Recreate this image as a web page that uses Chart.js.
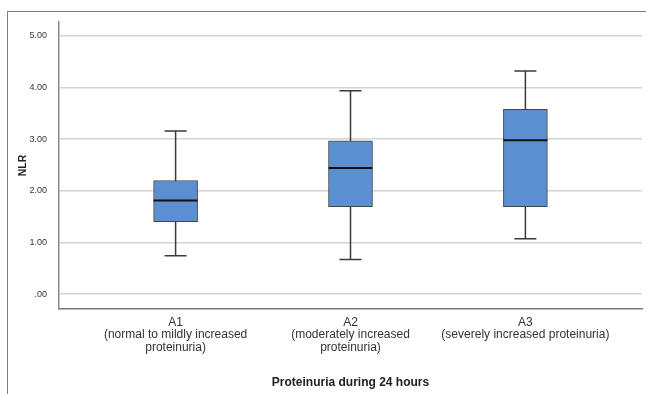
<!DOCTYPE html>
<html lang="en">
<head>
    <meta charset="UTF-8">
    <title>NLR by proteinuria</title>
    <script src="https://cdn.jsdelivr.net/npm/chart.js@4.4.0/dist/chart.umd.min.js"></script>
    <style>
        body { margin: 0; background: #fff; }
        .wrap { position: relative; width: 646px; height: 394px; overflow: hidden; }
        .frame {
            position: absolute; left: 7px; top: 11px; width: 660px; height: 400px;
            border-top: 1.5px solid #7d7d7d; border-left: 1.5px solid #7d7d7d;
        }
        canvas { position: absolute; left: 0; top: 0; }
    </style>
</head>
<body>
    <div class="wrap">
        <div class="frame"></div>
        <canvas id="boxChart" width="646" height="394"></canvas>
    </div>

    <script>
        // data
        const groups = [1, 2, 3];
        const groupLabels = [
            ['A1', '(normal to mildly increased', 'proteinuria)'],
            ['A2', '(moderately increased', 'proteinuria)'],
            ['A3', '(severely increased proteinuria)']
        ];
        const mins = [0.74, 0.67, 1.07];
        const q1s = [1.40, 1.69, 1.69];
        const medians = [1.81, 2.44, 2.98];
        const q3s = [2.20, 2.97, 3.58];
        const maxs = [3.16, 3.94, 4.32];
        const yTicks = [0, 1, 2, 3, 4, 5];
        const yTickLabels = ['.00', '1.00', '2.00', '3.00', '4.00', '5.00'];

        const fontFamily = '"Liberation Sans", Arial, sans-serif';

        // whiskers under the boxes, medians on top
        const boxPlotLines = {
            id: 'boxPlotLines',
            beforeDatasetsDraw(chart) {
                const { ctx, scales: { x, y } } = chart;
                ctx.save();
                ctx.strokeStyle = '#3a3a3a';
                ctx.lineWidth = 1.5;
                groups.forEach((g, i) => {
                    const px = x.getPixelForValue(g);
                    const top = y.getPixelForValue(maxs[i]);
                    const bot = y.getPixelForValue(mins[i]);
                    ctx.beginPath();
                    ctx.moveTo(px, top); ctx.lineTo(px, bot);
                    ctx.moveTo(px - 11, top); ctx.lineTo(px + 11, top);
                    ctx.moveTo(px - 11, bot); ctx.lineTo(px + 11, bot);
                    ctx.stroke();
                });
                ctx.restore();
            },
            afterDatasetsDraw(chart) {
                const { ctx, scales: { x, y } } = chart;
                ctx.save();
                ctx.strokeStyle = '#111';
                ctx.lineWidth = 2;
                groups.forEach((g, i) => {
                    const px = x.getPixelForValue(g);
                    const py = y.getPixelForValue(medians[i]);
                    ctx.beginPath();
                    ctx.moveTo(px - 22, py); ctx.lineTo(px + 22, py);
                    ctx.stroke();
                });
                ctx.restore();
            }
        };

        const ctx = document.getElementById('boxChart').getContext('2d');
        new Chart(ctx, {
            type: 'bar',
            data: {
                datasets: [{
                    data: groups.map((g, i) => ({ x: g, y: [q1s[i], q3s[i]] })),
                    backgroundColor: '#5b8fd0',
                    borderColor: '#454545',
                    borderWidth: 1,
                    borderSkipped: false,
                    barThickness: 44
                }]
            },
            options: {
                responsive: false,
                animation: false,
                events: [],
                layout: { padding: { left: 0, top: 22, right: 4, bottom: 0 } },
                plugins: { legend: { display: false }, tooltip: { enabled: false } },
                scales: {
                    x: {
                        type: 'linear',
                        offset: false,
                        min: 1 / 3,
                        max: 11 / 3,
                        afterBuildTicks: (scale) => { scale.ticks = groups.map(v => ({ value: v })); },
                        afterFit: (scale) => { scale.height = 85; },
                        grid: { display: false, drawTicks: false, offset: false },
                        border: { display: true, color: '#7a7a7a', width: 1.5 },
                        ticks: {
                            autoSkip: false,
                            maxRotation: 0,
                            padding: 7,
                            color: '#333',
                            font: { family: fontFamily, size: 12, lineHeight: 1.04 },
                            callback: (value, index) => groupLabels[index]
                        },
                        title: {
                            display: true,
                            text: 'Proteinuria during 24 hours',
                            color: '#222',
                            font: { family: fontFamily, size: 12, weight: 'bold' },
                            padding: { top: 0, bottom: 4 }
                        }
                    },
                    y: {
                        min: -0.29,
                        max: 5.27,
                        afterBuildTicks: (scale) => { scale.ticks = yTicks.map(v => ({ value: v })); },
                        afterFit: (scale) => { scale.width = 59; },
                        grid: { color: '#d4d4d4', lineWidth: 1.5, drawTicks: false },
                        border: { display: true, color: '#8a8a8a', width: 1.5 },
                        ticks: {
                            padding: 12,
                            color: '#333',
                            font: { family: fontFamily, size: 9 },
                            callback: (value, index) => yTickLabels[index]
                        },
                        title: {
                            display: true,
                            text: 'NLR',
                            color: '#222',
                            font: { family: fontFamily, size: 10.5, weight: 'bold' },
                            padding: { top: 17, bottom: 0 }
                        }
                    }
                }
            },
            plugins: [boxPlotLines]
        });
    </script>
</body>
</html>
